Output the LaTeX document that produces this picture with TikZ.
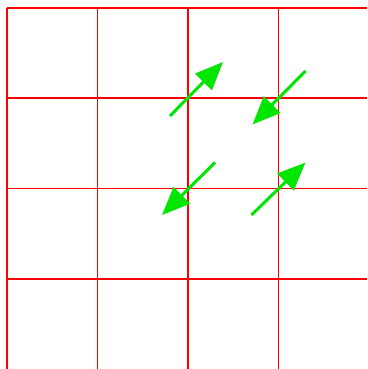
\documentclass[tikz,border=0pt]{standalone}
\usetikzlibrary{arrows.meta}
\definecolor{gridred}{RGB}{255,0,0}
\definecolor{arrowgreen}{RGB}{0,230,0}
\tikzset{
  gridline/.style={draw=gridred, line width=1.4pt},
  vecarrow/.style={draw=arrowgreen, line width=3pt, -{Triangle[length=28pt,width=23pt]}}
}
\begin{document}
\begin{tikzpicture}[x=1pt,y=-1pt]
\useasboundingbox (0,0) rectangle (367,369);
\foreach \x in {7,97.5,188,278.5} \draw[gridline] (\x,8) -- (\x,369);
\foreach \y in {8,98,188.5,279} \draw[gridline] (7,\y) -- (367,\y);
\coordinate (a1) at (170,116); \coordinate (b1) at (223,62);
\coordinate (a2) at (305.5,71); \coordinate (b2) at (252.5,124.5);
\coordinate (a3) at (215,162.5); \coordinate (b3) at (162,215);
\coordinate (a4) at (251.5,215); \coordinate (b4) at (305.5,162.5);
\draw[vecarrow] (a1) -- (b1);
\draw[vecarrow] (a2) -- (b2);
\draw[vecarrow] (a3) -- (b3);
\draw[vecarrow] (a4) -- (b4);
\end{tikzpicture}
\end{document}
